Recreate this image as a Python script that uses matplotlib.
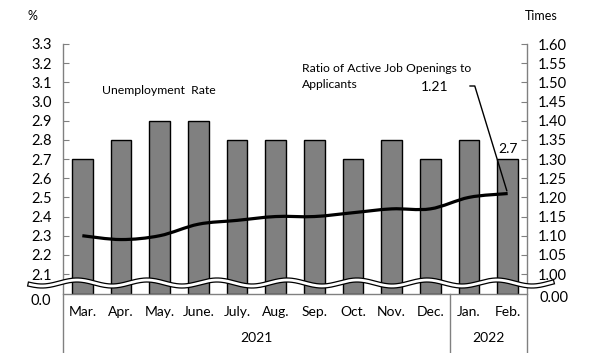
import numpy as np
import matplotlib
matplotlib.use("Agg")
import matplotlib.pyplot as plt
from matplotlib.path import Path
from matplotlib.patches import PathPatch
from matplotlib.lines import Line2D

months = ["Mar.", "Apr.", "May.", "June.", "July.", "Aug.", "Sep.", "Oct.", "Nov.", "Dec.", "Jan.", "Feb."]
unemployment = [2.7, 2.8, 2.9, 2.9, 2.8, 2.8, 2.8, 2.7, 2.8, 2.7, 2.8, 2.7]
ratio = [1.10, 1.09, 1.10, 1.13, 1.14, 1.15, 1.15, 1.16, 1.17, 1.17, 1.20, 1.21]
left_ticks = [2.1, 2.2, 2.3, 2.4, 2.5, 2.6, 2.7, 2.8, 2.9, 3.0, 3.1, 3.2, 3.3]
right_ticks = [1.00, 1.05, 1.10, 1.15, 1.20, 1.25, 1.30, 1.35, 1.40, 1.45, 1.50, 1.55, 1.60]
years = ["2021", "2022"]

plt.rcParams['font.family'] = ['Lato', 'DejaVu Sans']
W, H = 605, 353
fig = plt.figure(figsize=(W / 100, H / 100), dpi=100)

def fx(px):
    return px / W

def fy(py):
    return 1 - py / H

L, R, T, B = 63, 527, 44, 294
ax = fig.add_axes([fx(L), fy(B), fx(R) - fx(L), fy(T) - fy(B)])
ax2 = ax.twinx()

x = np.arange(len(months))
ybot = 1.996
ax.bar(x, np.array(unemployment) - ybot, bottom=ybot, width=0.53, color="#808080",
       edgecolor="black", linewidth=1.0, zorder=2)
ax.set_xlim(-0.5, len(months) - 0.5)
ax.set_ylim(ybot, 3.3)
ax.set_yticks(left_ticks)
ax.set_yticklabels([f"{v:.1f}" for v in left_ticks])
ax.set_xticks(x)
ax.set_xticklabels(months)

ax2.set_ylim(0.948, 1.60)
ax2.set_yticks(right_ticks)
ax2.set_yticklabels([f"{v:.2f}" for v in right_ticks])

for a in (ax, ax2):
    for s in a.spines.values():
        s.set_visible(False)
ax.tick_params(axis="y", direction="in", length=4, color="#808080", labelsize=10.5, pad=8)
ax2.tick_params(axis="y", direction="in", length=4, color="#808080", labelsize=10.5, pad=8)
ax.tick_params(axis="x", length=0, labelsize=10, pad=9)
ax.set_zorder(ax2.get_zorder() + 1)
ax.patch.set_visible(False)

# smooth line (Catmull-Rom to Bezier) on right axis
pts = np.column_stack([x, ratio]).astype(float)
verts = [tuple(pts[0])]
codes = [Path.MOVETO]
n = len(pts)
for i in range(n - 1):
    p0 = pts[max(i - 1, 0)]
    p1 = pts[i]
    p2 = pts[i + 1]
    p3 = pts[min(i + 2, n - 1)]
    c1 = p1 + (p2 - p0) / 6
    c2 = p2 - (p3 - p1) / 6
    verts += [tuple(c1), tuple(c2), tuple(p2)]
    codes += [Path.CURVE4] * 3
ax.add_patch(PathPatch(Path(verts, codes), facecolor="none", edgecolor="black",
                       linewidth=2.3, transform=ax2.transData, zorder=3))

# axis lines
gray = "#808080"
lines = [
    ([L, L], [T, H]),
    ([R, R], [T, H]),
    ([L, R], [B, B]),
    ([449.7, 449.7], [B, H]),
]
for xs, ys in lines:
    fig.add_artist(Line2D([fx(v) for v in xs], [fy(v) for v in ys], color=gray, linewidth=1.0))

# wave break
wx = np.linspace(30, 552, 400)
wy = 283 - 3 * np.cos(2 * np.pi * (wx - 287) / 70)
fig.add_artist(Line2D(fx(wx), fy(wy), color="black", linewidth=3.8, zorder=10))
fig.add_artist(Line2D(fx(wx), fy(wy), color="white", linewidth=2.0, zorder=11))

# zero labels
fig.text(fx(51), fy(301), "0.0", ha="right", va="center", fontsize=10.5)
fig.text(fx(540), fy(298), "0.00", ha="left", va="center", fontsize=10.5)

# units
fig.text(fx(27), fy(16), "%", ha="left", va="center", fontsize=9)
fig.text(fx(525), fy(16), "Times", ha="left", va="center", fontsize=9)

# years
fig.text(fx((L + 449.7) / 2), fy(338), years[0], ha="center", va="center", fontsize=10)
fig.text(fx((449.7 + R) / 2), fy(338), years[1], ha="center", va="center", fontsize=10)

# annotations
fig.text(fx(102), fy(90), "Unemployment  Rate", ha="left", va="center", fontsize=8.8)
fig.text(fx(302), fy(68), "Ratio of Active Job Openings to", ha="left", va="center", fontsize=8.7)
fig.text(fx(302), fy(84), "Applicants", ha="left", va="center", fontsize=8.7)
fig.text(fx(448), fy(87), f"{ratio[-1]:.2f}", ha="right", va="center", fontsize=10)
ax.annotate("", xy=(x[-1], ratio[-1]), xycoords=ax2.transData,
            xytext=(fx(467), fy(86)), textcoords="figure fraction",
            arrowprops=dict(arrowstyle="-", color="black", linewidth=1.0,
                            connectionstyle="angle,angleA=0,angleB=-73,rad=0"))
ax.text(x[-1], unemployment[-1] + 0.02, f"{unemployment[-1]:.1f}", ha="center", va="bottom", fontsize=10)

fig.savefig("out.png", dpi=100)
